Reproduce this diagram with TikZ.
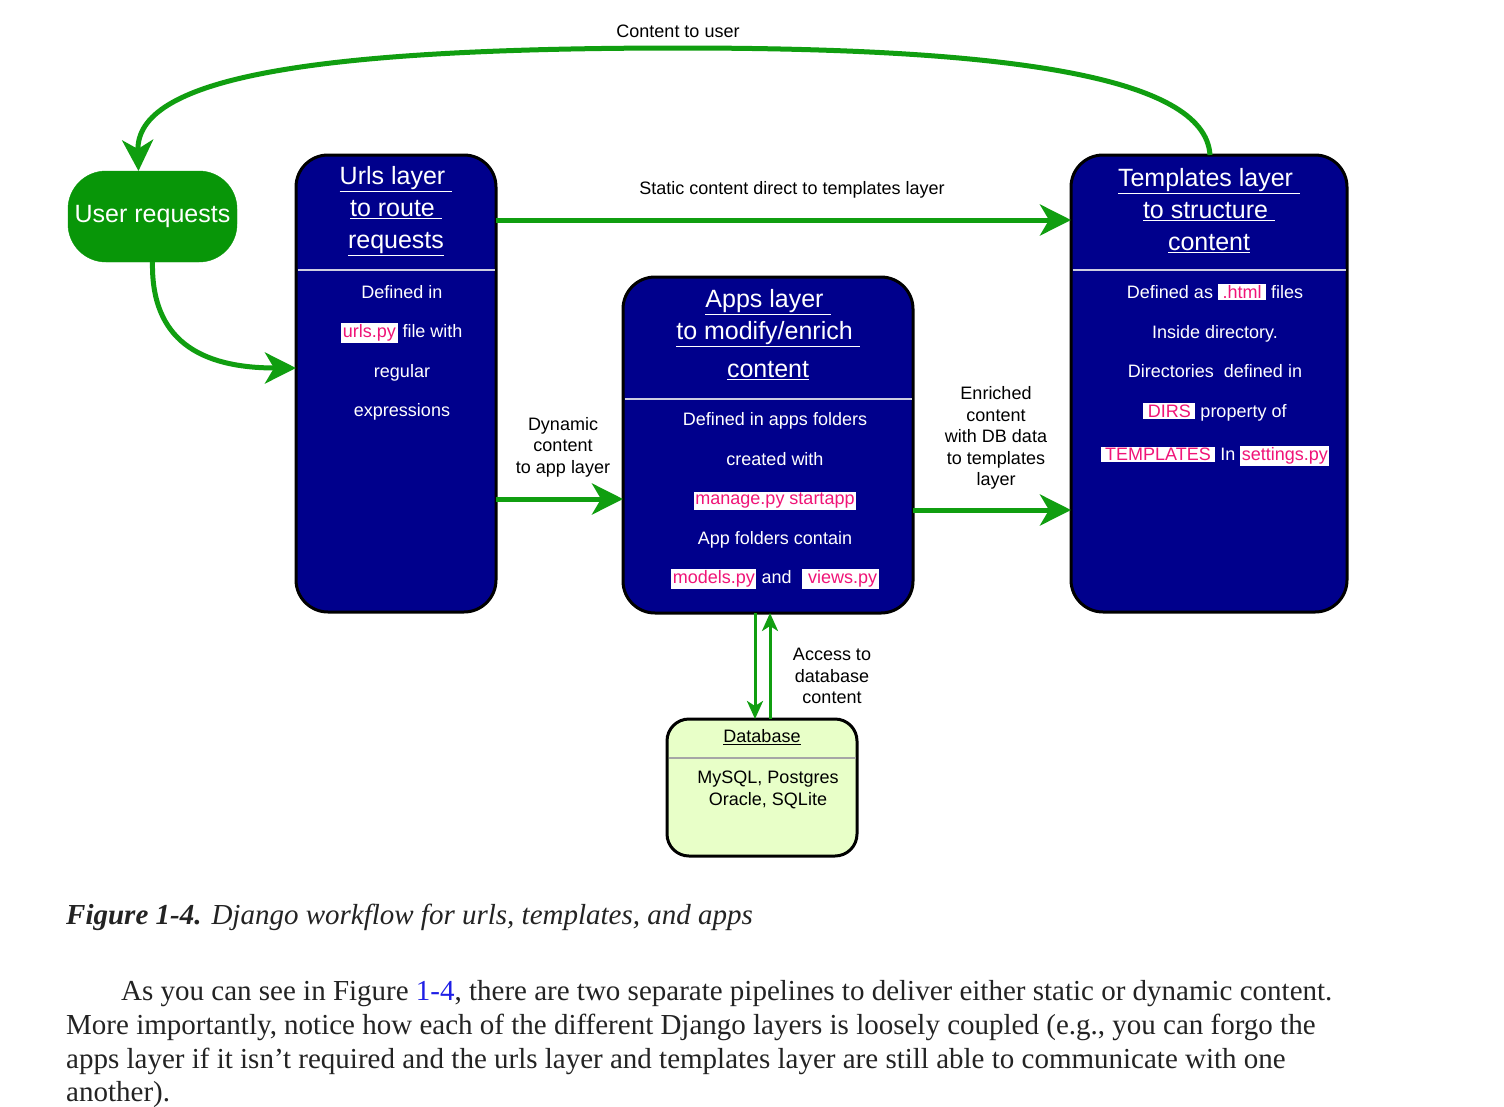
\documentclass[tikz,border=0pt]{standalone}
\usepackage{fontspec}
\setmainfont{Liberation Sans}
\newfontfamily\bookfont{Liberation Serif}
\usetikzlibrary{arrows.meta,calc}
\definecolor{navyc}{RGB}{0,0,140}
\definecolor{greenc}{RGB}{16,158,16}
\definecolor{userc}{RGB}{8,150,8}
\definecolor{pinkc}{RGB}{240,20,120}
\definecolor{dbc}{RGB}{232,255,200}
\definecolor{divc}{RGB}{205,205,225}
\definecolor{linkc}{RGB}{30,30,230}
\definecolor{textc}{RGB}{35,35,35}
\newcommand\hl[1]{{\setlength\fboxsep{1.5pt}\colorbox{white}{\textcolor{pinkc}{#1}}}}
\begin{document}
\begin{tikzpicture}[x=1pt,y=-1pt,
  layer/.style={draw=black, line width=3pt, fill=navyc, rounded corners=32pt, inner sep=0pt, outer sep=0pt},
  ttl/.style={text=white, align=center, font=\fontsize{25}{32}\selectfont},
  bdy/.style={text=white, align=center, font=\fontsize{18}{39.5}\selectfont},
  lbl/.style={text=black, align=center, font=\fontsize{18}{21.5}\selectfont},
  divider/.style={draw=divc, line width=2pt},
  flow/.style={draw=greenc, line width=5pt, -{Stealth[length=31pt,width=31pt,inset=9pt]}},
  dbflow/.style={draw=greenc, line width=3pt, -{Stealth[length=18pt,width=16pt,inset=5pt]}},
  book/.style={anchor=base west, inner sep=0pt, text=textc, font=\bookfont\fontsize{29}{34}\selectfont}
]
\useasboundingbox (0,0) rectangle (1504,1106);
\fill[white] (0,0) rectangle (1504,1106);

% nodes
\node[draw=userc, fill=userc, rounded corners=38pt, minimum width=169pt, minimum height=91pt, inner sep=0pt, outer sep=0pt,
  text=white, font=\fontsize{25}{30}\selectfont] (user) at (152.5,216.5) {User requests};
\node[layer, minimum width=200pt, minimum height=457pt] (urls) at (396,383.5) {};
\node[layer, minimum width=290pt, minimum height=336pt] (apps) at (768,445) {};
\node[layer, minimum width=276pt, minimum height=457pt] (tpl) at (1209,383.5) {};
\node[draw=black, line width=3pt, fill=dbc, rounded corners=22pt, minimum width=190pt, minimum height=137pt, inner sep=0pt, outer sep=0pt] (db) at (762,787.5) {};

% dividers
\draw[divider] ($(urls.north west)+(1.5,115)$) -- ($(urls.north east)+(-1.5,115)$);
\draw[divider] ($(apps.north west)+(1.5,122)$) -- ($(apps.north east)+(-1.5,122)$);
\draw[divider] ($(tpl.north west)+(1.5,115)$) -- ($(tpl.north east)+(-1.5,115)$);
\draw[draw=gray!70, line width=2pt] ($(db.north west)+(1.5,39)$) -- ($(db.north east)+(-1.5,39)$);

% titles
\node[ttl] (urlsT) at (396,211) {\underline{Urls layer\ }\\\underline{to route\ }\\\underline{requests}};
\node[ttl] (appsT) at (768,335) {\underline{Apps layer\ }\\\underline{to modify/enrich\ }\\[6pt]\underline{content}};
\node[ttl] (tplT) at (1209,211) {\underline{Templates layer\ }\\\underline{to structure\ }\\\underline{content}};

% bodies
\node[bdy] (urlsB) at (402,353) {Defined in\\\hl{urls.py} file with\\regular\\expressions};
\node[bdy] (appsB) at (775,501) {Defined in apps folders\\created with\\\hl{manage.py startapp}\\App folders contain\\\hl{models.py} and \ \hl{\ views.py}};
\node[bdy] (tplB) at (1215,375) {Defined as \hl{\,.html\,} files\\Inside directory.\\Directories \ defined in\\\hl{\,DIRS\,} property of\\[4pt]\hl{\,TEMPLATES\,} In \hl{settings.py}};

% database
\node[text=black, font=\fontsize{18}{22}\selectfont] (dbT) at (762,737) {\underline{Database}};
\node[text=black, align=center, font=\fontsize{18}{22}\selectfont] (dbB) at (768,790) {MySQL, Postgres\\Oracle, SQLite};

% connectors
\draw[flow] ($(tpl.north)+(1,0)$) .. controls (1205,75) and (1000,48) .. (680,48)
  .. controls (300,48) and (136,80) .. ($(user.north)+(-14,0)$);
\draw[flow] (user.south) .. controls (151,340) and (200,368) .. ($(urls.north west)+(0,213)$);
\draw[flow] ($(urls.north east)+(0,65)$) -- ($(tpl.north west)+(0,65)$);
\draw[flow] ($(urls.north east)+(0,344)$) -- ($(apps.north west)+(0,222)$);
\draw[flow] ($(apps.north east)+(0,233)$) -- ($(tpl.north west)+(0,355)$);
\draw[dbflow] ($(apps.south)+(-13,0)$) -- ($(db.north)+(-7,0)$);
\draw[dbflow] ($(db.north)+(8,0)$) -- ($(apps.south)+(2,0)$);

% labels
\node[lbl] (l1) at (678,31) {Content to user};
\node[lbl] (l2) at (792,190) {Static content direct to templates layer};
\node[lbl] (l3) at (563,447) {Dynamic\\content\\to app layer};
\node[lbl] (l4) at (996,438) {Enriched\\content\\with DB data\\to templates\\layer};
\node[lbl] (l5) at (832,676) {Access to\\database\\content};

% caption and text
\node[book] (cap) at (66,924) {{\bfseries\itshape Figure 1-4.}\hspace{10pt}{\itshape Django workflow for urls, templates, and apps}};
\node[book] (p1) at (121,1000) {As you can see in Figure \textcolor{linkc}{1-4}, there are two separate pipelines to deliver either static or dynamic content.};
\node[book] (p2) at (66,1034) {More importantly, notice how each of the different Django layers is loosely coupled (e.g., you can forgo the};
\node[book] (p3) at (66,1068) {apps layer if it isn’t required and the urls layer and templates layer are still able to communicate with one};
\node[book] (p4) at (66,1101) {another).};
\end{tikzpicture}
\end{document}
